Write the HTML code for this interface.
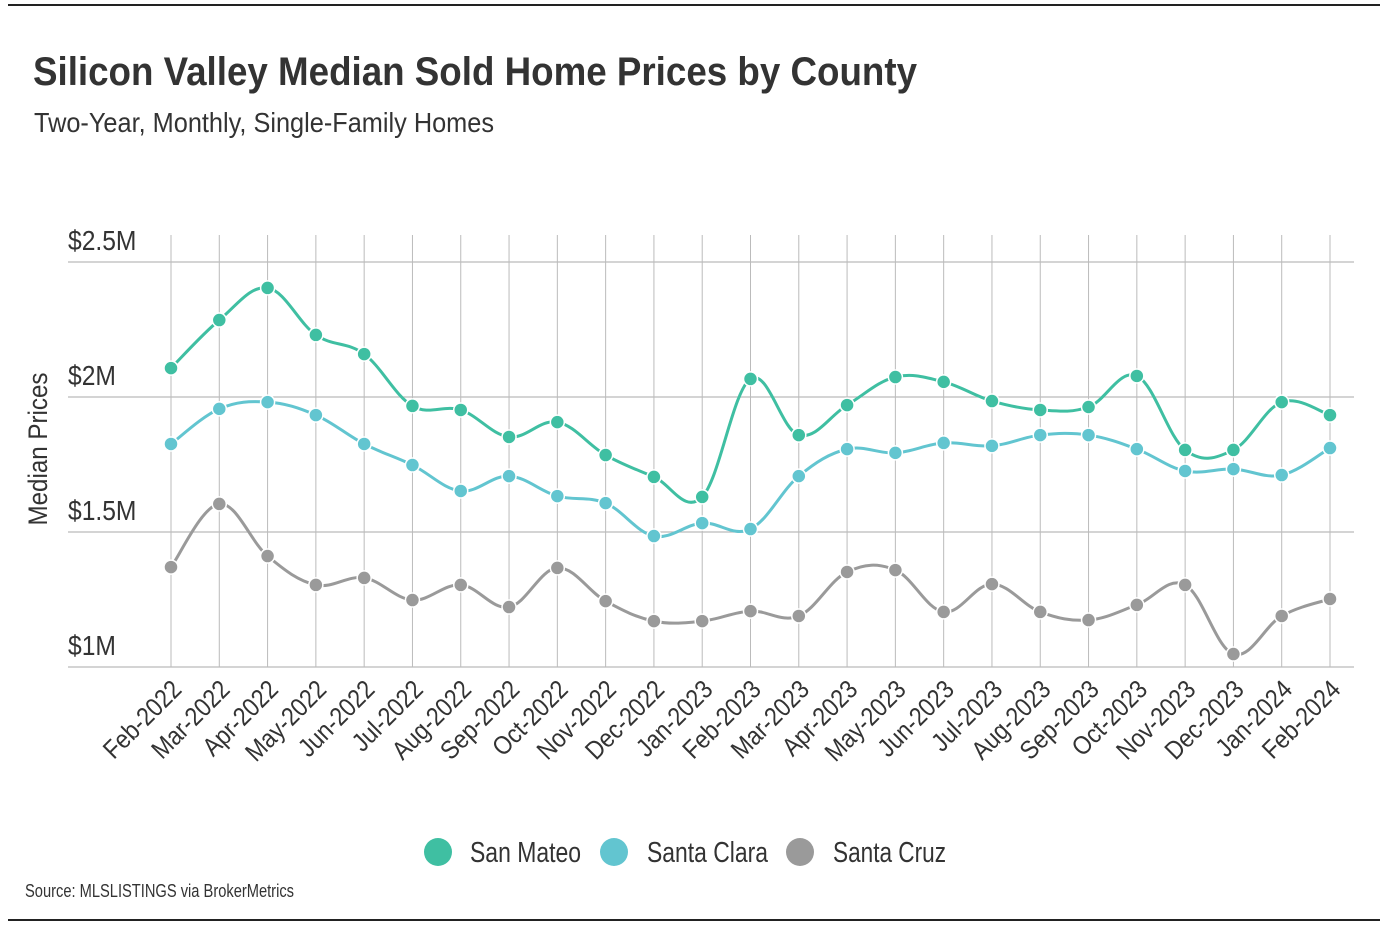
<!DOCTYPE html>
<html><head><meta charset="utf-8"><style>
html,body{margin:0;padding:0;background:#fff;width:1394px;height:930px;overflow:hidden}
svg{display:block}
text{font-family:"Liberation Sans Narrow","Liberation Sans",sans-serif;fill:#333}
</style></head><body>
<svg id="chart" width="1394" height="930">
<line x1="8" y1="5" x2="1380" y2="5" stroke="#222" stroke-width="2"/>
<line x1="8" y1="920" x2="1380" y2="920" stroke="#222" stroke-width="2"/>
<text x="33" y="85" font-size="40" font-weight="bold" fill="#333" textLength="884" lengthAdjust="spacingAndGlyphs">Silicon Valley Median Sold Home Prices by County</text>
<text x="34" y="132" font-size="28" fill="#444" textLength="460" lengthAdjust="spacingAndGlyphs">Two-Year, Monthly, Single-Family Homes</text>
<text transform="translate(47,449) rotate(-90)" text-anchor="middle" font-size="27" textLength="153" lengthAdjust="spacingAndGlyphs">Median Prices</text>
<g id="grid"></g><g id="series"></g><g id="xlabels"></g>
<g>
<g><circle cx="438" cy="852" r="14" fill="#3fbfa2"/><text x="470" y="862" font-size="29" textLength="111" lengthAdjust="spacingAndGlyphs">San Mateo</text></g>
<g><circle cx="614" cy="852" r="14" fill="#62c5d0"/><text x="647" y="862" font-size="29" textLength="121" lengthAdjust="spacingAndGlyphs">Santa Clara</text></g>
<g><circle cx="800" cy="852" r="14" fill="#9a9a9a"/><text x="833" y="862" font-size="29" textLength="113" lengthAdjust="spacingAndGlyphs">Santa Cruz</text></g>
</g>
<text x="25" y="897" font-size="18" textLength="269" lengthAdjust="spacingAndGlyphs">Source:  MLSLISTINGS via BrokerMetrics</text>
</svg>
<script>
const categories=["Feb-2022","Mar-2022","Apr-2022","May-2022","Jun-2022","Jul-2022","Aug-2022","Sep-2022","Oct-2022","Nov-2022","Dec-2022","Jan-2023","Feb-2023","Mar-2023","Apr-2023","May-2023","Jun-2023","Jul-2023","Aug-2023","Sep-2023","Oct-2023","Nov-2023","Dec-2023","Jan-2024","Feb-2024"];
const sanMateo=[2.107,2.285,2.404,2.23,2.159,1.967,1.952,1.852,1.907,1.785,1.704,1.63,2.067,1.859,1.97,2.074,2.056,1.985,1.952,1.963,2.078,1.804,1.804,1.981,1.933];
const santaClara=[1.826,1.956,1.981,1.933,1.826,1.748,1.652,1.707,1.633,1.607,1.485,1.533,1.511,1.707,1.807,1.793,1.83,1.819,1.859,1.859,1.807,1.726,1.733,1.711,1.811];
const santaCruz=[1.37,1.604,1.411,1.304,1.33,1.248,1.304,1.222,1.367,1.244,1.17,1.17,1.207,1.189,1.352,1.359,1.204,1.307,1.204,1.174,1.23,1.304,1.048,1.189,1.252];
const yTicks=[1,1.5,2,2.5];
const yTickLabels=["$1M","$1.5M","$2M","$2.5M"];
const seriesNames=["san-mateo","santa-clara","santa-cruz"];
const NS="http://www.w3.org/2000/svg";
const x0=171,x1=1330,y0=667,yPerM=270;
function xs(i){return x0+(x1-x0)*i/(categories.length-1);}
function ys(v){return y0-(v-1)*yPerM;}
function mk(t,a,p){const e=document.createElementNS(NS,t);for(const k in a)e.setAttribute(k,a[k]);p.appendChild(e);return e;}
const grid=document.getElementById('grid');
yTicks.forEach((t,i)=>{
 const l=mk('line',{x1:68,x2:1354,y1:ys(t),y2:ys(t),stroke:'#bbb','stroke-width':1.2},grid);
 
 
 const tx=mk('text',{x:68,y:ys(t)-12,'font-size':28,fill:'#333',transform:`translate(68,0) scale(0.88,1) translate(-68,0)`},grid);
 tx.textContent=yTickLabels[i];
 
 
});
categories.forEach((c,i)=>{
 const l=mk('line',{x1:xs(i),x2:xs(i),y1:235,y2:y0,stroke:'#bbb','stroke-width':1},grid);
 
 
 const tx=mk('text',{'text-anchor':'end','font-size':26,transform:`translate(${xs(i)+12},${y0+24}) rotate(-45) scale(0.88,1)`},document.getElementById('xlabels'));
 tx.textContent=c;
 
 
});
function path(pts){let d=`M${pts[0][0]},${pts[0][1]}`;const t=0.18;
 for(let i=0;i<pts.length-1;i++){const p0=pts[Math.max(i-1,0)],p1=pts[i],p2=pts[i+1],p3=pts[Math.min(i+2,pts.length-1)];
 d+=` C${p1[0]+(p2[0]-p0[0])*t},${p1[1]+(p2[1]-p0[1])*t} ${p2[0]-(p3[0]-p1[0])*t},${p2[1]-(p3[1]-p1[1])*t} ${p2[0]},${p2[1]}`;}return d;}
const sg=document.getElementById('series');
[[santaCruz,'#9a9a9a',2],[santaClara,'#62c5d0',1],[sanMateo,'#3fbfa2',0]].forEach(([vals,col,n])=>{
 const g=mk('g',{},sg);
 
 
 const pts=vals.map((v,i)=>[xs(i),ys(v)]);
 const p=mk('path',{d:path(pts),fill:'none',stroke:col,'stroke-width':3},g);
 
 
 pts.forEach(q=>{const c=mk('circle',{cx:q[0],cy:q[1],r:7,fill:col,stroke:'#fff','stroke-width':1.5},g);
 
 });
});
</script>
</body></html>
